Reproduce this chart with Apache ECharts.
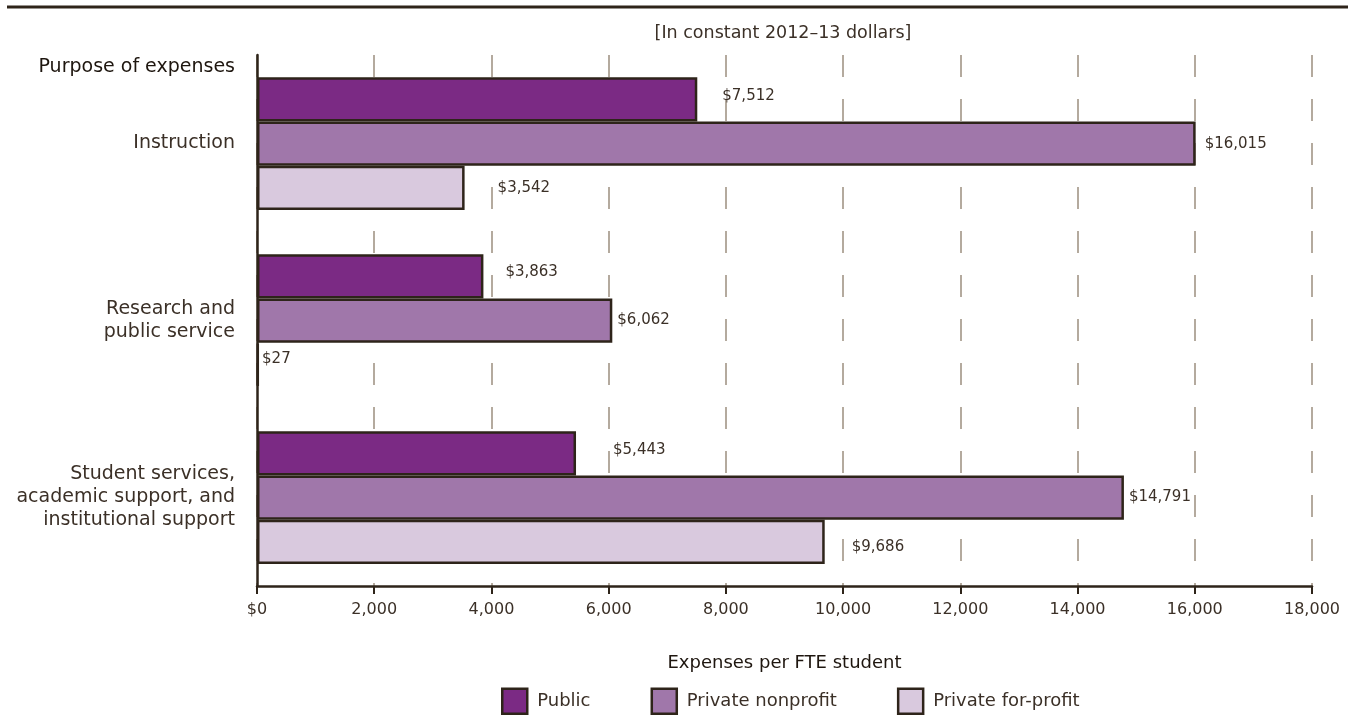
<!DOCTYPE html>
<html>
<head>
<meta charset="utf-8">
<script src="https://cdn.jsdelivr.net/npm/echarts@6/dist/echarts.min.js"></script>
<style>
  html, body { margin: 0; padding: 0; background: #fff; }
  #chart { width: 1356px; height: 715px; }
</style>
</head>
<body>
<div id="chart"></div>
<script>
const categories = ['Instruction', 'Research and\npublic service', 'Student services,\nacademic support, and\ninstitutional support'];
const seriesNames = ['Public', 'Private nonprofit', 'Private for-profit'];
const publicValues = [7512, 3863, 5443];
const nonprofitValues = [16015, 6062, 14791];
const forprofitValues = [3542, 27, 9686];
const xTicks = [0, 2000, 4000, 6000, 8000, 10000, 12000, 14000, 16000, 18000];

// label nudges so the value labels sit where the original puts them
const labelNudge = [
  [[20, -3], [17, -4], [32, -3]],
  [[4, 1], [0, 0], [0, 0]],
  [[28, 0], [-2, -6], [22, 5]]
];

const ink = '#2e241a';
const textColor = '#3b3027';
const font = 'DejaVu Sans';
const colors = ['#7b2a84', '#a077aa', '#d9c9de'];

const chart = echarts.init(document.getElementById('chart'));

const fmt = v => v.toLocaleString('en-US');

function makeSeries(name, values, idx) {
  return {
    name: name,
    type: 'bar',
    barGap: 0,
    barCategoryGap: '25%',
    itemStyle: {
      color: colors[idx],
      borderColor: ink,
      borderWidth: 2.5
    },
    label: {
      show: true,
      position: 'right',
      distance: 5,
      color: textColor,
      fontFamily: font,
      fontSize: 15,
      formatter: p => '$' + fmt(p.value)
    },
    data: values.map((v, i) => ({
      value: v,
      label: {offset: labelNudge[idx][i]}
    }))
  };
}

chart.setOption({
  animation: false,
  textStyle: {fontFamily: font},
  grid: {left: 257, right: 44, top: 55, bottom: 129},
  graphic: [
    {
      type: 'line',
      shape: {x1: 7, y1: 7, x2: 1348, y2: 7},
      style: {stroke: ink, lineWidth: 3}
    },
    {
      type: 'text',
      x: 783, y: 33,
      style: {
        text: '[In constant 2012–13 dollars]',
        fill: textColor, font: '17.5px "DejaVu Sans"',
        textAlign: 'center', textVerticalAlign: 'middle'
      }
    },
    {
      type: 'text',
      x: 235, y: 67,
      style: {
        text: 'Purpose of expenses',
        fill: '#1e160f', font: '19px "DejaVu Sans"',
        textAlign: 'right', textVerticalAlign: 'middle'
      }
    }
  ],
  legend: {
    bottom: -5,
    left: 496,
    icon: 'rect',
    itemWidth: 25,
    itemHeight: 25,
    itemGap: 60,
    textStyle: {color: textColor, fontFamily: font, fontSize: 18, padding: [0, 0, 0, 5]},
    itemStyle: {borderColor: ink, borderWidth: 2.5},
    data: seriesNames
  },
  xAxis: {
    type: 'value',
    min: 0,
    max: 18000,
    interval: 2000,
    name: 'Expenses per FTE student',
    nameLocation: 'middle',
    nameGap: 68,
    nameTextStyle: {color: '#1e160f', fontFamily: font, fontSize: 18},
    axisLine: {show: true, lineStyle: {color: ink, width: 2.5}},
    axisTick: {show: true, length: 8, lineStyle: {color: ink, width: 2}},
    axisLabel: {
      color: textColor, fontFamily: font, fontSize: 16, margin: 16,
      formatter: v => xTicks.includes(v) ? (v === 0 ? '$0' : fmt(v)) : ''
    },
    splitLine: {
      show: true,
      lineStyle: {color: '#b4aa9e', width: 2, type: [22, 22], dashOffset: 0}
    }
  },
  yAxis: {
    type: 'category',
    inverse: true,
    data: categories,
    axisLine: {show: true, lineStyle: {color: ink, width: 2.5}},
    axisTick: {show: false},
    axisLabel: {
      color: textColor, fontFamily: font, fontSize: 19, margin: 22,
      lineHeight: 23, align: 'right'
    }
  },
  series: [
    makeSeries(seriesNames[0], publicValues, 0),
    makeSeries(seriesNames[1], nonprofitValues, 1),
    makeSeries(seriesNames[2], forprofitValues, 2)
  ]
});
</script>
</body>
</html>
